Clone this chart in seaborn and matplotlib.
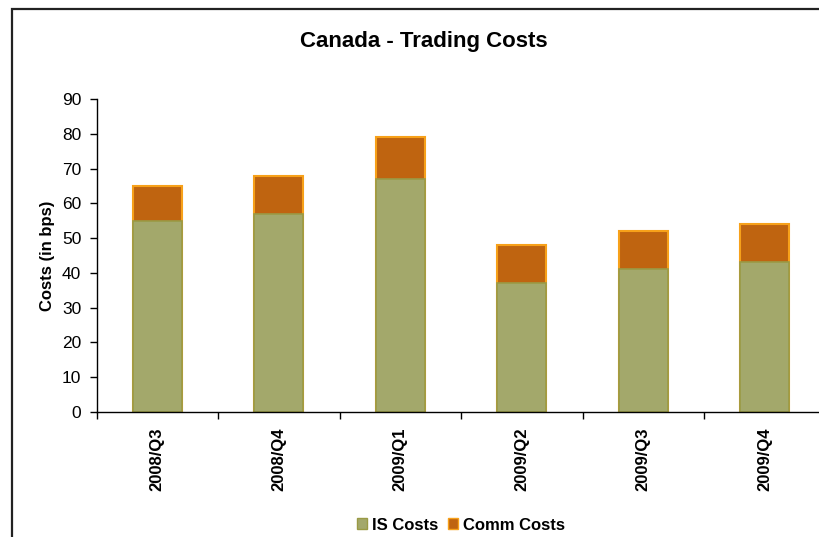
import matplotlib
matplotlib.use("Agg")
import matplotlib.pyplot as plt
import seaborn as sns
import pandas as pd
from matplotlib.patches import Rectangle, Patch

quarters = ["2008/Q3", "2008/Q4", "2009/Q1", "2009/Q2", "2009/Q3", "2009/Q4"]
is_costs = [55, 57, 67, 37, 41, 43]
comm_costs = [10, 11, 12, 11, 11, 11]

sns.set_style("white")
plt.rcParams['font.family'] = ['Liberation Sans', 'DejaVu Sans']
plt.rcParams.update({"text.color": "black", "axes.labelcolor": "black",
                     "xtick.color": "black", "ytick.color": "black"})

df = pd.DataFrame({"quarter": quarters, "IS": is_costs, "Comm": comm_costs})
df["total"] = df["IS"] + df["Comm"]

is_color = "#A3A86B"
is_edge = "#9A9A45"
comm_color = "#BF6410"
comm_edge = "#F7A11A"

fig = plt.figure(figsize=(8.19, 5.37), dpi=100)
# outer chart border
fig.patches.append(Rectangle((11.5 / 819, -0.1), 1.2, 1 - 9 / 537 + 0.1,
                             transform=fig.transFigure, fill=False,
                             edgecolor="#222222", linewidth=1.6, zorder=0))
ax = fig.add_axes([96.5 / 819, 1 - 412 / 537, 729 / 819, 313 / 537])

sns.barplot(data=df, x="quarter", y="total", color=comm_color, width=0.4,
            edgecolor=comm_edge, linewidth=1.5, saturation=1, ax=ax)
sns.barplot(data=df, x="quarter", y="IS", color=is_color, width=0.4,
            edgecolor=is_edge, linewidth=1.2, saturation=1, ax=ax)

ax.set_xlim(-0.5, 5.5)
ax.set_ylim(0, 90)
ax.set_yticks(range(0, 91, 10))
ax.tick_params(axis="y", labelsize=12.5, length=5, width=1, direction="out",
               left=True, pad=6)
ax.set_xticks(range(len(quarters)))
ax.set_xticklabels(quarters, rotation=90, fontweight="bold", fontsize=12)
ax.tick_params(axis="x", length=0, pad=11)
ax.set_xticks([i - 0.5 for i in range(len(quarters) + 1)], minor=True)
ax.tick_params(axis="x", which="minor", length=5, width=1, direction="out",
               bottom=True)
ax.set_xlabel("")
ax.set_ylabel("Costs (in bps)", fontweight="bold", fontsize=12, labelpad=5)
for s in ["top", "right"]:
    ax.spines[s].set_visible(False)
for s in ["left", "bottom"]:
    ax.spines[s].set_color("black")
    ax.spines[s].set_linewidth(1)

fig.text(424 / 819, 1 - 42 / 537, "Canada - Trading Costs", ha="center",
         va="center", fontsize=16, fontweight="bold")

handles = [Patch(facecolor=is_color, edgecolor=is_edge, label="IS Costs"),
           Patch(facecolor=comm_color, edgecolor=comm_edge, label="Comm Costs")]
fig.legend(handles=handles, loc="center", bbox_to_anchor=(461 / 819, 1 - 525 / 537),
           ncol=2, frameon=False, prop={"weight": "bold", "size": 12},
           handlelength=0.6, handleheight=0.6, handletextpad=0.3,
           columnspacing=0.6, borderpad=0)

fig.savefig("out.png", dpi=100)
